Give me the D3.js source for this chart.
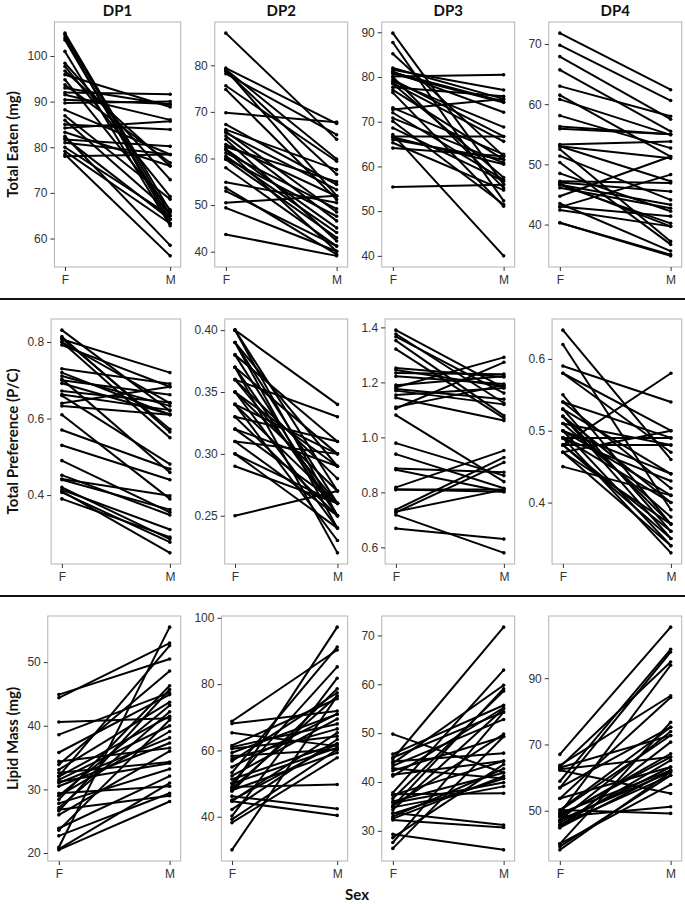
<!DOCTYPE html>
<html>
<head>
<meta charset="utf-8">
<script src="https://cdn.jsdelivr.net/npm/d3@7"></script>
<style>
  body { margin: 0; background: #fff; }
  svg { display: block; }
</style>
</head>
<body>
<div id="chart"></div>
<script>
// categories
const sexes = ['F', 'M'];
const dietGroups = ['DP1', 'DP2', 'DP3', 'DP4'];
const measures = ['Total Eaten (mg)', 'Total Preference (P/C)', 'Lipid Mass (mg)'];

// each pair is one animal line: [F value, M value]
const eatenDP1 = [[105,66],[104.6,65],[104,63.3],[103.5,64.2],[101,62.8],[98.4,72.9],[97.7,69.2],[96.7,75.9],[95.9,88.8],[94.8,66.3],
  [93.7,76.6],[93,89.3],[92,91.6],[91.5,86],[90.4,89.5],[89.7,90],[88.2,78.4],[86.9,68.6],[85.9,65.7],[85,83.9],
  [84.2,85.7],[83.3,75.9],[82.4,58.5],[81.7,80.2],[81,78.4],[80,65],[79.1,63.3],[78.4,56.2],[78,78.4],[82,64.2]];
const eatenDP2 = [[86.9,64.1],[79.4,67.5],[79.1,59.9],[78.7,56.6],[78.2,65.1],[79,52],[75.6,59.4],[74.8,51.2],[69.8,67.8],[67.3,54.4],
  [66.2,57.6],[65.5,53.3],[64.8,46.6],[64.1,42.3],[63,51.9],[62,45.1],[61.9,40.1],[61.2,49.2],[60.5,44.1],[59.8,43],
  [60,47.6],[58,41.2],[54.9,50.5],[53.7,39.4],[53,41.2],[50.5,52],[49.4,40.1],[43.7,39.1],[65.8,48.5],[62.5,55]];
const eatenDP3 = [[89.8,56],[87.7,52.3],[85.2,62.3],[82,75.1],[81.6,77.1],[81.2,72.1],[80.7,74.3],[80.1,80.5],[79.4,66.7],[78.6,65.6],
  [77.7,75.7],[77.1,61.5],[78.5,57.5],[79,68.8],[80,55.2],[73.1,62.7],[72.7,75.1],[70.8,60.8],[70.1,51.5],[68.6,56.7],
  [67.1,40],[66.7,66.7],[66,61.5],[65.3,54.7],[64.1,62.3],[55.4,55.9],[76.5,51.1],[72,57],[81,74.5],[66.5,60.5]];
const eatenDP4 = [[71.8,62.4],[69.8,60.6],[67.9,57.5],[65.7,55.5],[63,58],[61.5,51.3],[60.8,54.9],[58.1,52.7],[56.3,55],[55.9,55],
  [53.3,53.8],[53,51],[53,47.2],[52.5,37.2],[51.4,44.1],[50.3,36.7],[48.5,42.2],[47.2,46.9],[46.6,43.3],[46.6,40.2],
  [46.1,42.7],[44.7,51.3],[43.5,35.6],[42.9,48.3],[42.4,39.7],[40.3,34.8],[40.3,35],[47,45.5],[43,41.4],[46.8,39.7]];

const prefDP1 = [[0.831,0.62],[0.814,0.565],[0.807,0.72],[0.8,0.55],[0.792,0.683],[0.8,0.64],[0.81,0.572],[0.73,0.691],[0.711,0.633],[0.703,0.459],
  [0.692,0.611],[0.7,0.662],[0.672,0.642],[0.663,0.622],[0.64,0.683],[0.633,0.61],[0.61,0.39],[0.57,0.468],[0.53,0.44],[0.49,0.355],
  [0.452,0.348],[0.442,0.398],[0.42,0.285],[0.414,0.31],[0.407,0.277],[0.39,0.29],[0.66,0.481],[0.72,0.61],[0.41,0.249],[0.44,0.362]];
const prefDP2 = [[0.40,0.34],[0.40,0.27],[0.40,0.25],[0.39,0.29],[0.39,0.26],[0.39,0.24],[0.38,0.31],[0.38,0.25],[0.37,0.30],[0.37,0.25],
  [0.37,0.22],[0.36,0.33],[0.36,0.28],[0.36,0.26],[0.35,0.29],[0.35,0.24],[0.34,0.30],[0.34,0.26],[0.34,0.23],[0.33,0.31],
  [0.33,0.25],[0.32,0.29],[0.32,0.26],[0.31,0.30],[0.31,0.25],[0.30,0.26],[0.30,0.24],[0.29,0.26],[0.25,0.27],[0.35,0.27]];
const prefDP3 = [[1.39,1.18],[1.376,1.125],[1.366,1.161],[1.352,1.079],[1.321,1.07],[1.252,1.22],[1.245,1.185],[1.234,1.23],[1.222,1.194],[1.19,1.222],
  [1.182,1.291],[1.176,1.139],[1.154,1.18],[1.144,1.061],[1.105,1.273],[1.11,1.19],[1.081,0.839],[0.979,0.861],[0.939,0.815],[0.887,0.873],
  [0.882,0.802],[0.818,0.952],[0.81,0.81],[0.81,0.802],[0.737,0.927],[0.727,0.909],[0.718,0.58],[0.73,0.81],[0.669,0.63],[1.17,1.12]];
const prefDP4 = [[0.64,0.46],[0.62,0.39],[0.59,0.54],[0.58,0.47],[0.58,0.50],[0.55,0.37],[0.54,0.49],[0.54,0.42],[0.53,0.44],[0.53,0.36],
  [0.52,0.40],[0.52,0.35],[0.51,0.48],[0.51,0.38],[0.50,0.34],[0.50,0.41],[0.49,0.49],[0.49,0.33],[0.49,0.43],[0.48,0.58],
  [0.48,0.48],[0.48,0.36],[0.48,0.35],[0.47,0.50],[0.47,0.37],[0.47,0.34],[0.50,0.44],[0.45,0.41],[0.49,0.40],[0.52,0.37]];

const lipidDP1 = [[44.9,50.5],[44.4,53],[40.6,41.2],[38.6,45.2],[35.8,44.9],[34.4,36.5],[33.9,48.6],[33.1,43.7],[32.6,34.3],[32.1,52.6],
  [31.5,40],[31,38.1],[30.5,37.3],[29.4,30.5],[29,39.1],[28.4,46.3],[27.8,33.2],[27.1,42.2],[26.6,45.7],[26,36],
  [23.9,32.1],[23.6,40.9],[22.7,29.4],[20.9,55.5],[20.6,31],[20.5,28.1],[32,41.5],[31.2,34.1],[29,43.2],[26.8,29]];
const lipidDP2 = [[68.8,90.3],[68.1,71.9],[65.3,61.3],[61.5,75.6],[60.5,64.3],[59.3,70.9],[58.3,60.3],[56.8,77.4],[57.5,66.5],[53.3,91.2],
  [52.3,69.5],[51.3,62],[50.1,85.2],[49,49.7],[48.5,76.4],[48,59.3],[47.7,78.6],[46.2,42.4],[44.7,40.4],[44.7,65.3],
  [42.2,63.3],[40.2,81.8],[39.2,60.3],[38.2,57.8],[30,76.4],[50,60.8],[55,71],[61,68],[45,62],[48.8,97.2]];
const lipidDP3 = [[49.8,41.9],[45.7,55.7],[45,54.3],[44.7,71.7],[43.8,59.8],[43.3,52.8],[42.3,49.3],[41.2,55.2],[44.2,45.9],[37.8,62.9],
  [37.3,44.3],[37.5,37.7],[36.6,58.6],[35.7,39.9],[35.1,49.8],[34.3,55],[33.7,31.2],[32.9,42.7],[32.2,30.7],[29.3,26.1],
  [28.6,43.6],[27.6,54.3],[26.4,49.3],[33.5,40.7],[35,59.1],[34.8,39.1],[36,41.9],[42.8,40.7],[41.5,44.3],[32.5,41.2]];
const lipidDP4 = [[67,105.4],[63.7,84.7],[63.2,94.9],[62.2,55.2],[62.5,66.2],[63,72.7],[58.9,98.7],[56.9,97.9],[53.7,63.2],[53.7,84.2],
  [50.2,75.2],[50.2,49.2],[49.2,93.9],[49.2,62.2],[48.2,51.2],[48.2,67.2],[47.2,61.7],[47.2,73.9],[45.7,60.7],[45.7,65.2],
  [44.9,70.7],[44.9,62.2],[40,57.9],[40,76.7],[39.2,60.7],[38.2,61.7],[46.5,63.2],[48.5,66.2],[57,75.2],[50,72.7]];

// tick values for each panel, row by row
const ticksEaten = [[60,70,80,90,100],[40,50,60,70,80],[40,50,60,70,80,90],[40,50,60,70]];
const ticksPref = [[0.4,0.6,0.8],[0.25,0.30,0.35,0.40],[0.6,0.8,1.0,1.2,1.4],[0.4,0.5,0.6]];
const ticksLipid = [[20,30,40,50],[40,60,80,100],[30,40,50,60,70],[50,70,90]];
const formatsEaten = ['d','d','d','d'];
const formatsPref = ['.1f','.2f','.1f','.1f'];
const formatsLipid = ['d','d','d','d'];

const rows = [
  { data: [eatenDP1, eatenDP2, eatenDP3, eatenDP4], ticks: ticksEaten, formats: formatsEaten },
  { data: [prefDP1, prefDP2, prefDP3, prefDP4], ticks: ticksPref, formats: formatsPref },
  { data: [lipidDP1, lipidDP2, lipidDP3, lipidDP4], ticks: ticksLipid, formats: formatsLipid },
];

const width = 685;
const height = 904;
const grid = { left: 16.7, cellW: 167, plotW: 164, top: 22, rowStep: 297, plotH: 245 };
const tickFont = '"Liberation Sans", Arial, sans-serif';
const titleFont = 'Lato, "Open Sans", sans-serif';

const svg = d3.select('#chart')
  .append('svg')
  .attr('width', width)
  .attr('height', height);

// probe text used to measure tick label widths
const probe = svg.append('text')
  .attr('font-family', tickFont)
  .attr('font-size', 12);

rows.forEach((row, r) => {
  const top = grid.top + r * grid.rowStep;
  const bottom = top + grid.plotH;

  row.data.forEach((pairs, c) => {
    const cellX = grid.left + c * grid.cellW;
    const right = cellX + grid.plotW;
    const fmt = d3.format(row.formats[c]);

    let maxW = 0;
    row.ticks[c].forEach((t) => {
      probe.text(fmt(t));
      maxW = Math.max(maxW, probe.node().getComputedTextLength());
    });
    const left = cellX + 10.7 + maxW + 7;

    // ggplot-style 5% expansion of the data range
    const [lo, hi] = d3.extent(pairs.flat());
    const pad = (hi - lo) * 0.05;
    const y = d3.scaleLinear().domain([lo - pad, hi + pad]).range([bottom, top]);
    const x = d3.scalePoint().domain(sexes).range([left, right]).padding(0.1);

    const g = svg.append('g').attr('class', 'panel');

    g.append('rect')
      .attr('x', left)
      .attr('y', top)
      .attr('width', right - left)
      .attr('height', bottom - top)
      .attr('fill', '#fff')
      .attr('stroke', '#b3b3b3')
      .attr('stroke-width', 1);

    const yAxis = g.append('g')
      .attr('transform', `translate(${left},0)`)
      .call(d3.axisLeft(y).tickValues(row.ticks[c]).tickFormat(fmt).tickSize(4).tickPadding(3));
    const xAxis = g.append('g')
      .attr('transform', `translate(0,${bottom})`)
      .call(d3.axisBottom(x).tickSize(4).tickPadding(4.5));

    [yAxis, xAxis].forEach((a) => {
      a.select('.domain').remove();
      a.selectAll('line').attr('stroke', '#333');
      a.selectAll('text')
        .attr('font-family', tickFont)
        .attr('font-size', 12)
        .attr('fill', '#333');
    });

    // one line per animal
    g.selectAll('line.pair')
      .data(pairs)
      .join('line')
      .attr('class', 'pair')
      .attr('x1', x('F'))
      .attr('y1', (d) => y(d[0]))
      .attr('x2', x('M'))
      .attr('y2', (d) => y(d[1]))
      .attr('stroke', '#000')
      .attr('stroke-width', 2);

    g.selectAll('circle.pt')
      .data(pairs.flatMap((d) => [{ s: 'F', v: d[0] }, { s: 'M', v: d[1] }]))
      .join('circle')
      .attr('class', 'pt')
      .attr('cx', (d) => x(d.s))
      .attr('cy', (d) => y(d.v))
      .attr('r', 1.8)
      .attr('fill', '#000');

    if (r === 0) {
      svg.append('text')
        .attr('x', (left + right) / 2)
        .attr('y', 16)
        .attr('text-anchor', 'middle')
        .attr('font-family', titleFont)
        .attr('font-weight', 'bold')
        .attr('font-size', 15)
        .attr('fill', '#111')
        .text(dietGroups[c]);
    }
  });

  // row title
  svg.append('text')
    .attr('transform', `translate(13,${(top + bottom) / 2}) rotate(-90)`)
    .attr('text-anchor', 'middle')
    .attr('dy', '0.35em')
    .attr('font-family', titleFont)
    .attr('font-weight', 'bold')
    .attr('font-size', 15)
    .attr('fill', '#111')
    .text(measures[r]);
});

probe.remove();

// horizontal separators between the rows
svg.selectAll('line.sep')
  .data([1, 2])
  .join('line')
  .attr('class', 'sep')
  .attr('x1', 0)
  .attr('x2', width)
  .attr('y1', (d) => grid.top + d * grid.rowStep - 20)
  .attr('y2', (d) => grid.top + d * grid.rowStep - 20)
  .attr('stroke', '#111')
  .attr('stroke-width', 2);

svg.append('text')
  .attr('x', 357)
  .attr('y', 900)
  .attr('text-anchor', 'middle')
  .attr('font-family', titleFont)
  .attr('font-weight', 'bold')
  .attr('font-size', 15)
  .attr('fill', '#111')
  .text('Sex');
</script>
</body>
</html>
